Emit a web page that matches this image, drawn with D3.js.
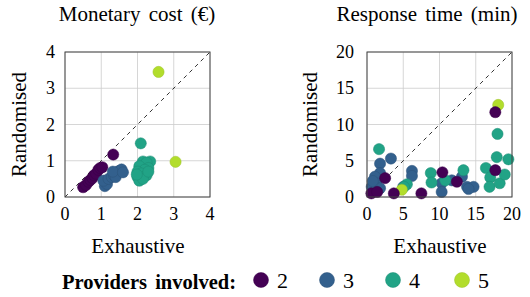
<!DOCTYPE html>
<html>
<head>
<meta charset="utf-8">
<script src="https://cdn.jsdelivr.net/npm/d3@7"></script>
<style>
  body { margin: 0; background: #fff; }
</style>
</head>
<body>
<div id="chart"></div>
<script>
// providers involved (legend) and colours
var providers = [2, 3, 4, 5];
var providerColors = ["#440154", "#33608d", "#21a386", "#b2dd2c"];

// monetary cost: [exhaustive, randomised, providers]
var costPoints = [
  [0.5, 0.27, 2], [0.58, 0.33, 2], [0.65, 0.42, 2], [0.7, 0.47, 2], [0.76, 0.52, 2],
  [0.8, 0.6, 2], [0.86, 0.64, 2], [0.92, 0.75, 2], [0.97, 0.8, 2], [1.03, 0.82, 2],
  [1.33, 1.17, 2],
  [1.1, 0.3, 3], [1.16, 0.36, 3], [1.06, 0.45, 3], [1.2, 0.5, 3], [1.29, 0.55, 3],
  [1.35, 0.6, 3], [1.42, 0.64, 3], [1.45, 0.7, 3], [1.5, 0.72, 3], [1.56, 0.76, 3],
  [1.4, 0.55, 3], [1.32, 0.7, 3], [1.6, 0.68, 3],
  [2.09, 1.48, 4], [2.35, 0.98, 4], [2.15, 0.98, 4], [2.25, 0.95, 4], [2.05, 0.85, 4],
  [2.3, 0.8, 4], [2.2, 0.75, 4], [2.0, 0.7, 4], [2.1, 0.65, 4], [2.25, 0.6, 4],
  [2.0, 0.55, 4], [2.05, 0.45, 4], [2.15, 0.5, 4], [2.3, 0.7, 4], [1.98, 0.62, 4],
  [2.58, 3.45, 5], [3.05, 0.97, 5]
];

// response time: [exhaustive, randomised, providers]
var timePoints = [
  [1.8, 4.6, 3], [3.3, 5.3, 3], [1.8, 3.3, 3], [1.1, 2.8, 3], [1.3, 1.9, 3],
  [0.65, 1.4, 3], [1.1, 0.9, 3], [1.8, 1.2, 3], [0.8, 2.2, 3], [6.2, 3.6, 3],
  [6.2, 2.9, 3], [5.0, 1.4, 3], [10.3, 1.9, 3], [10.3, 0.7, 3], [11.7, 2.3, 3],
  [13.1, 2.8, 3], [13.8, 1.4, 3], [14.7, 1.4, 3], [14.0, 1.1, 3],
  [1.66, 6.6, 4], [5.5, 1.75, 4], [5.1, 1.4, 4], [8.8, 3.3, 4], [8.9, 2.0, 4],
  [10.8, 2.3, 4], [13.3, 3.7, 4], [16.4, 4.0, 4], [17.0, 2.7, 4], [16.9, 1.4, 4],
  [18.3, 1.9, 4], [19.0, 3.1, 4], [17.9, 5.5, 4], [19.5, 5.2, 4], [18.0, 8.7, 4],
  [4.8, 1.0, 5], [18.1, 12.7, 5],
  [0.6, 0.5, 2], [1.4, 0.7, 2], [2.5, 2.6, 2], [3.7, 0.5, 2], [7.5, 0.5, 2],
  [10.4, 3.4, 2], [12.4, 2.1, 2], [17.7, 3.7, 2], [17.7, 11.7, 2]
];

var costTicks = [0, 1, 2, 3, 4];
var timeTicks = [0, 5, 10, 15, 20];

var font = "'Liberation Serif', 'Times New Roman', serif";
var width = 530, height = 297;
var svg = d3.select("#chart").append("svg")
  .attr("width", width)
  .attr("height", height)
  .attr("font-family", font);

var color = d3.scaleOrdinal().domain(providers).range(providerColors);

function drawPanel(opts) {
  var x = d3.scaleLinear().domain([0, opts.max]).range([opts.left, opts.left + 145]);
  var y = d3.scaleLinear().domain([0, opts.max]).range([197, 52]);
  var g = svg.append("g");

  // grid
  g.selectAll(".gx").data(opts.ticks).enter().append("line")
    .attr("x1", d => x(d)).attr("x2", d => x(d))
    .attr("y1", y(0)).attr("y2", y(opts.max))
    .attr("stroke", "#cccccc").attr("stroke-width", 0.8);
  g.selectAll(".gy").data(opts.ticks).enter().append("line")
    .attr("y1", d => y(d)).attr("y2", d => y(d))
    .attr("x1", x(0)).attr("x2", x(opts.max))
    .attr("stroke", "#cccccc").attr("stroke-width", 0.8);

  // diagonal
  g.append("line")
    .attr("x1", x(0)).attr("y1", y(0))
    .attr("x2", x(opts.max)).attr("y2", y(opts.max))
    .attr("stroke", "#000").attr("stroke-width", 0.8)
    .attr("stroke-dasharray", "4,4");

  // points
  g.selectAll("circle").data(opts.data).enter().append("circle")
    .attr("cx", d => x(d[0]))
    .attr("cy", d => y(d[1]))
    .attr("r", 5.6)
    .attr("fill", d => color(d[2]))
    .attr("stroke", d => d3.color(color(d[2])).darker(0.4))
    .attr("stroke-width", 0.5);

  // frame
  g.append("rect")
    .attr("x", x(0)).attr("y", y(opts.max))
    .attr("width", x(opts.max) - x(0)).attr("height", y(0) - y(opts.max))
    .attr("fill", "none").attr("stroke", "#444").attr("stroke-width", 1);

  // tick labels
  g.selectAll(".tx").data(opts.ticks).enter().append("text")
    .attr("x", d => x(d)).attr("y", 220)
    .attr("text-anchor", "middle").style("font-size", "18px")
    .text(d => d);
  g.selectAll(".ty").data(opts.ticks).enter().append("text")
    .attr("x", x(0) - opts.tickGap).attr("y", d => y(d) + 6)
    .attr("text-anchor", "end").style("font-size", "18px")
    .text(d => d);

  // titles
  g.append("text")
    .attr("x", opts.titleX).attr("y", 21)
    .attr("text-anchor", "middle").style("font-size", "21px")
    .style("word-spacing", "3px")
    .text(opts.title);
  g.append("text")
    .attr("x", opts.left + 73).attr("y", 253)
    .attr("text-anchor", "middle").style("font-size", "21px")
    .text("Exhaustive");
  g.append("text")
    .attr("transform", "translate(" + opts.labelX + "," + 124.5 + ") rotate(-90)")
    .attr("text-anchor", "middle").style("font-size", "21px")
    .text("Randomised");
}

drawPanel({ left: 65, max: 4, ticks: costTicks, data: costPoints,
  title: "Monetary cost (€)", titleX: 137, labelX: 25.5, tickGap: 10 });
drawPanel({ left: 367, max: 20, ticks: timeTicks, data: timePoints,
  title: "Response time (min)", titleX: 427, labelX: 317, tickGap: 13 });

// legend
var legend = svg.append("g");
legend.append("text")
  .attr("x", 62).attr("y", 289)
  .style("font-size", "20.5px").style("font-weight", "bold")
  .style("word-spacing", "3px")
  .text("Providers involved:");
var legendX = [261, 327, 393, 462];
var item = legend.selectAll(".item").data(providers).enter().append("g")
  .attr("transform", (d, i) => "translate(" + legendX[i] + ",280)");
item.append("circle")
  .attr("r", 7.5)
  .attr("fill", d => color(d))
  .attr("stroke", d => d3.color(color(d)).darker(0.4))
  .attr("stroke-width", 0.5);
item.append("text")
  .attr("x", 16).attr("y", 8)
  .style("font-size", "22px")
  .text(d => d);
</script>
</body>
</html>
